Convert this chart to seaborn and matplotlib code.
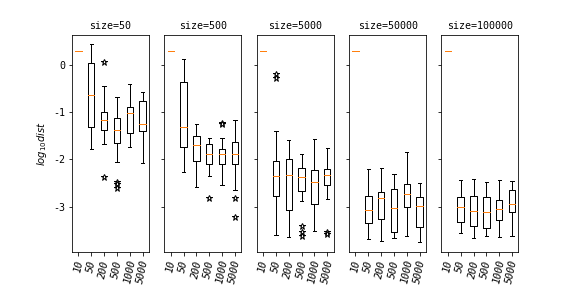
import numpy as np
import pandas as pd
import matplotlib
matplotlib.use("Agg")
import matplotlib.pyplot as plt
import seaborn as sns

plt.rcParams['font.family'] = ['DejaVu Sans Mono', 'Noto Sans CJK SC']
plt.rcParams['axes.unicode_minus'] = False

sizes = [50, 500, 5000, 50000, 100000]
categories = ['10', '50', '200', '500', '1000', '5000']

# per size: summary values per category (log10 dist)
# order of categories: 10, 50, 200, 500, 1000, 5000
whislo = {
    50:     [0.29, -1.79, -1.68, -2.06, -1.74, -2.08],
    500:    [0.29, -2.27, -2.59, -2.36, -2.55, -2.65],
    5000:   [0.29, -3.61, -3.65, -2.89, -3.51, -2.84],
    50000:  [0.29, -3.69, -3.73, -3.67, -3.63, -3.75],
    100000: [0.29, -3.56, -3.67, -3.63, -3.65, -3.63],
}
q1 = {
    50:     [0.29, -1.31, -1.38, -1.66, -1.45, -1.40],
    500:    [0.29, -1.74, -2.04, -2.10, -2.10, -2.10],
    5000:   [0.29, -2.78, -3.08, -2.67, -2.94, -2.55],
    50000:  [0.29, -3.35, -3.27, -3.54, -3.01, -3.44],
    100000: [0.29, -3.33, -3.42, -3.46, -3.29, -3.12],
}
median = {
    50:     [0.29, -0.64, -1.16, -1.38, -1.02, -1.24],
    500:    [0.29, -1.32, -1.70, -1.89, -1.89, -1.89],
    5000:   [0.29, -2.36, -2.34, -2.38, -2.48, -2.34],
    50000:  [0.29, -3.08, -2.82, -3.03, -2.74, -2.99],
    100000: [0.29, -3.01, -3.10, -3.12, -3.06, -2.95],
}
q3 = {
    50:     [0.29, 0.035, -1.00, -1.13, -0.88, -0.76],
    500:    [0.29, -0.37, -1.51, -1.68, -1.78, -1.64],
    5000:   [0.29, -2.04, -2.00, -2.19, -2.23, -2.21],
    50000:  [0.29, -2.78, -2.70, -2.62, -2.53, -2.80],
    100000: [0.29, -2.80, -2.78, -2.80, -2.87, -2.65],
}
whishi = {
    50:     [0.29, 0.44, -0.45, -0.67, -0.41, -0.58],
    500:    [0.29, 0.12, -1.24, -1.55, -1.55, -1.17],
    5000:   [0.29, -1.40, -1.59, -1.89, -1.57, -1.76],
    50000:  [0.29, -2.21, -2.19, -2.30, -1.85, -2.51],
    100000: [0.29, -2.43, -2.41, -2.47, -2.43, -2.45],
}
fliers = {
    50:     [[], [], [0.06, -2.38], [-2.49, -2.53, -2.60], [], []],
    500:    [[], [], [], [-2.82], [-1.23, -1.25], [-2.82, -3.22]],
    5000:   [[], [-0.20, -0.28], [], [-3.42, -3.54, -3.63], [], [-3.54, -3.58]],
    50000:  [[], [], [], [], [], []],
    100000: [[], [], [], [], [], []],
}


def build_table(s):
    rows = []
    for i, c in enumerate(categories):
        if whislo[s][i] == whishi[s][i]:
            vals = [median[s][i]]
        else:
            vals = ([whislo[s][i], whishi[s][i]] + [q1[s][i]] * 10 +
                    [median[s][i]] * 10 + [q3[s][i]] * 10 + list(fliers[s][i]))
        rows += [(c, v) for v in vals]
    return pd.DataFrame(rows, columns=['n', 'val'])


fig, axes = plt.subplots(1, 5, sharey=True, figsize=(8, 4), dpi=72)
fig.subplots_adjust(bottom=0.124, top=0.879)
for ax, s in zip(axes, sizes):
    df = build_table(s)
    sns.boxplot(data=df, x='n', y='val', order=categories, ax=ax,
                fill=False, color='black', width=0.5, linewidth=1, whis=1.5,
                medianprops=dict(color='#ff7f0e', linewidth=1,
                                 solid_capstyle='projecting'),
                flierprops=dict(marker='*', markerfacecolor='white',
                                markeredgecolor='black', markersize=7))
    for ln in ax.lines:
        if matplotlib.colors.same_color(ln.get_color(), '#ff7f0e'):
            ln.set_zorder(5)
    ax.set_title(f'size={s}', fontsize=10)
    ax.set_xlabel('')
    ax.set_ylabel('')
    for lab in ax.get_xticklabels():
        lab.set_rotation(78)
        lab.set_fontstyle('italic')
    ax.set_xlim(-0.5, 5.5)

axes[0].set_ylabel('$log_{10}dist$')
axes[0].set_ylim(-3.97, 0.64)
fig.savefig('out.png', dpi=72)
